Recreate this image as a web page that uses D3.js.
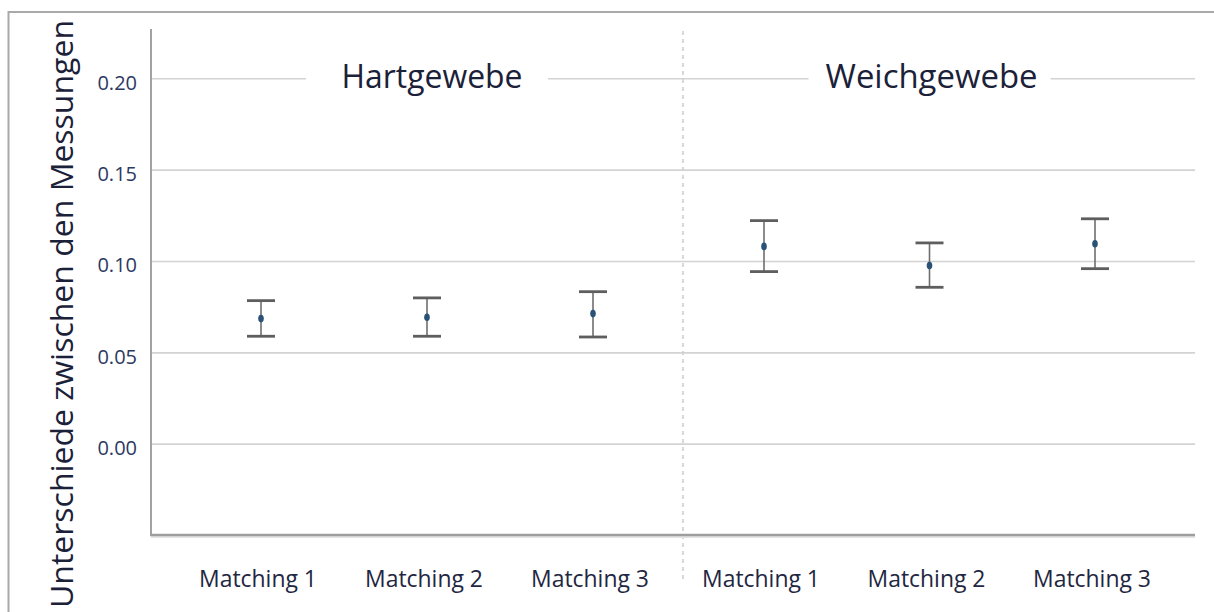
<!DOCTYPE html>
<html>
<head>
<meta charset="utf-8">
<script src="https://cdn.jsdelivr.net/npm/d3@7"></script>
<style>
  html, body { margin: 0; padding: 0; background: #fff; }
  svg { display: block; }
  text { font-family: "Open Sans", "Noto Sans", sans-serif; }
</style>
</head>
<body>
<svg id="chart" width="1214" height="612"></svg>
<script>
// Mean differences between measurements with 95% confidence intervals
const groups = ["Hartgewebe", "Weichgewebe"];
const categories = ["Matching 1", "Matching 2", "Matching 3"];

const hartMean  = [0.0685, 0.0692, 0.0712];
const hartLower = [0.0588, 0.0588, 0.0584];
const hartUpper = [0.0783, 0.0798, 0.0832];

const weichMean  = [0.1080, 0.0975, 0.1094];
const weichLower = [0.0942, 0.0856, 0.0958];
const weichUpper = [0.1221, 0.1099, 0.1231];

const yTicks = [0.00, 0.05, 0.10, 0.15, 0.20];
const yTitle = "Unterschiede zwischen den Messungen";

const svg = d3.select("#chart");

const plot = { left: 151, right: 1195, top: 29, bottom: 535 };
const divider = 683;

const y = d3.scaleLinear().domain([-0.05, 0.227]).range([plot.bottom, plot.top]);

// one point scale per panel
const panels = [
  { name: groups[0], mean: hartMean,  lo: hartLower,  hi: hartUpper,
    x: d3.scalePoint().domain(categories).range([261, 593]), textDx: 5, textLen: 181 },
  { name: groups[1], mean: weichMean, lo: weichLower, hi: weichUpper,
    x: d3.scalePoint().domain(categories).range([764, 1095]), textDx: 2, textLen: 212 }
];

// outer frame
svg.append("path")
  .attr("d", `M1214,12 H8.5 V612`)
  .attr("fill", "none").attr("stroke", "#a9a9a9").attr("stroke-width", 2);

// horizontal grid lines
const grid = svg.append("g")
  .attr("transform", `translate(${plot.left},0)`)
  .call(d3.axisLeft(y).tickValues(yTicks)
    .tickSize(-(plot.right - plot.left)).tickFormat(""));
grid.select(".domain").remove();
grid.selectAll("line").attr("stroke", "#d3d3d3").attr("stroke-width", 1.6);

// panel divider
svg.append("line")
  .attr("x1", divider).attr("x2", divider)
  .attr("y1", 31).attr("y2", 580)
  .attr("stroke", "#cfcfcf").attr("stroke-width", 1.6)
  .attr("stroke-dasharray", "4,4");

// panel headings on the 0.20 line
panels.forEach(p => {
  const cx = p.x(categories[1]);
  svg.append("rect")
    .attr("x", cx - 121).attr("y", y(0.20) - 4)
    .attr("width", 242).attr("height", 8)
    .attr("fill", "#fff");
  svg.append("text")
    .attr("x", cx + p.textDx).attr("y", 88)
    .attr("text-anchor", "middle")
    .attr("font-size", 32)
    .attr("fill", "#1b2138")
    .attr("textLength", p.textLen)
    .attr("lengthAdjust", "spacingAndGlyphs")
    .text(p.name);
});

// y axis with tick labels
const yAxis = svg.append("g")
  .attr("transform", `translate(${plot.left},0)`)
  .call(d3.axisLeft(y).tickValues(yTicks).tickSize(0).tickPadding(14)
    .tickFormat(d3.format(".2f")));
yAxis.select(".domain").remove();
yAxis.selectAll("text")
  .attr("font-size", 20)
  .attr("font-family", "'Open Sans', sans-serif")
  .attr("fill", "#2c3961")
  .attr("dy", "0.55em");

svg.append("line")
  .attr("x1", plot.left).attr("x2", plot.left)
  .attr("y1", plot.top).attr("y2", plot.bottom)
  .attr("stroke", "#a2a2a2").attr("stroke-width", 2);

// x axis baseline
svg.append("line")
  .attr("x1", plot.left).attr("x2", plot.right)
  .attr("y1", plot.bottom + 2).attr("y2", plot.bottom + 2)
  .attr("stroke", "#e4e4e4").attr("stroke-width", 2);
svg.append("line")
  .attr("x1", plot.left - 1).attr("x2", plot.right)
  .attr("y1", plot.bottom).attr("y2", plot.bottom)
  .attr("stroke", "#9e9e9e").attr("stroke-width", 2.4);

// error bars, mean markers and category labels
panels.forEach(p => {
  const g = svg.append("g");
  categories.forEach((c, i) => {
    const cx = p.x(c);
    g.append("line")
      .attr("x1", cx).attr("x2", cx)
      .attr("y1", y(p.hi[i])).attr("y2", y(p.lo[i]))
      .attr("stroke", "#6e6e6e").attr("stroke-width", 1.6);
    [p.hi[i], p.lo[i]].forEach(v => {
      g.append("line")
        .attr("x1", cx - 14).attr("x2", cx + 14)
        .attr("y1", y(v)).attr("y2", y(v))
        .attr("stroke", "#5e5e5e").attr("stroke-width", 2.8);
    });
    g.append("ellipse")
      .attr("cx", cx).attr("cy", y(p.mean[i]))
      .attr("rx", 2.8).attr("ry", 3.8)
      .attr("fill", "#2a5276");
    svg.append("text")
      .attr("x", cx - 3).attr("y", 587)
      .attr("text-anchor", "middle")
      .attr("font-size", 24)
      .attr("font-weight", 500)
      .attr("fill", "#1f2742")
      .attr("textLength", 118)
      .attr("lengthAdjust", "spacingAndGlyphs")
      .text(c);
  });
});

// y axis title
svg.append("text")
  .attr("transform", "translate(73,20) rotate(-90)")
  .attr("text-anchor", "end")
  .attr("font-size", 31)
  .attr("fill", "#1b2138")
  .attr("textLength", 588)
  .attr("lengthAdjust", "spacingAndGlyphs")
  .text(yTitle);
</script>
</body>
</html>
